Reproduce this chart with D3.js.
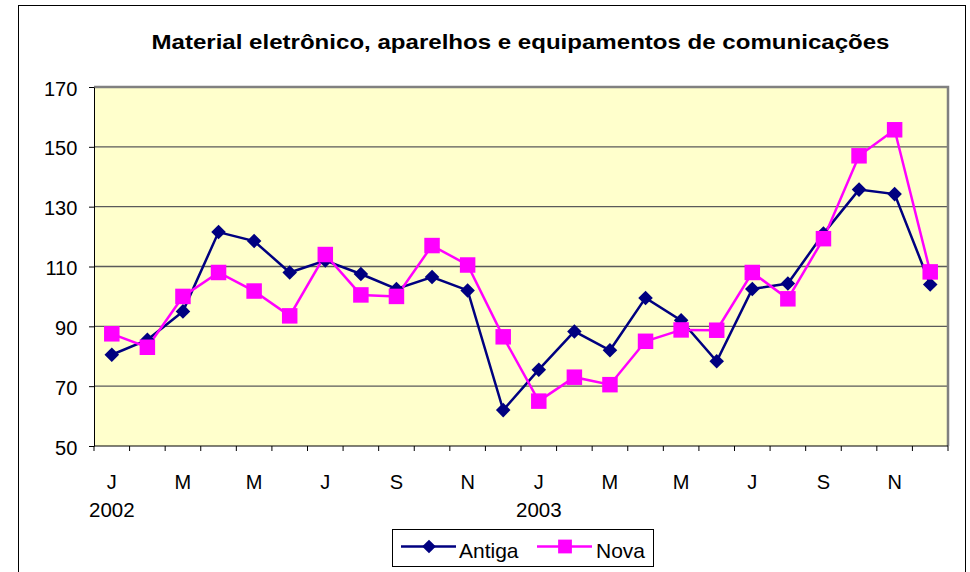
<!DOCTYPE html>
<html>
<head>
<meta charset="utf-8">
<script src="https://cdn.jsdelivr.net/npm/d3@7"></script>
<style>
  body { margin: 0; background: #fff; }
  svg { display: block; font-family: "Liberation Sans", Arial, sans-serif; }
</style>
</head>
<body>
<div id="chart"></div>
<script>
const months = ["J","F","M","A","M","J","J","A","S","O","N","D",
                "J","F","M","A","M","J","J","A","S","O","N","D"];
const years = ["2002","","","","","","","","","","","",
               "2003","","","","","","","","","","",""];
const antiga = [80.5, 85.5, 95, 121.5, 118.5, 108, 112, 107.5, 102.5, 106.5, 102, 62,
                75.5, 88.3, 82, 99.5, 92, 78.3, 102.5, 104.3, 121, 135.7, 134.2, 104];
const nova = [87.5, 83, 100, 108, 101.8, 93.5, 114, 100.5, 100, 117, 110.5, 86.5,
              65, 73, 70.5, 85, 88.8, 88.7, 108, 99.2, 119.3, 147, 155.7, 108.2];
const yTicks = [50, 70, 90, 110, 130, 150, 170];

const W = 970, H = 572;
const margin = { top: 87, right: 22, bottom: 126, left: 94 };
const width = W - margin.left - margin.right;
const height = H - margin.top - margin.bottom;

const svg = d3.select("#chart").append("svg")
  .attr("width", W)
  .attr("height", H);

// outer frame
svg.append("rect")
  .attr("x", 18.5).attr("y", 5.5)
  .attr("width", 947).attr("height", 580)
  .attr("fill", "none").attr("stroke", "#000").attr("stroke-width", 1);

svg.append("text")
  .attr("x", 151.5)
  .attr("y", 49)
  .attr("font-weight", "bold")
  .attr("font-size", "21px")
  .attr("textLength", 738)
  .attr("lengthAdjust", "spacingAndGlyphs")
  .text("Material eletrônico, aparelhos e equipamentos de comunicações");

const g = svg.append("g")
  .attr("transform", `translate(${margin.left},${margin.top})`);

const idx = d3.range(months.length);
const x = d3.scaleBand().domain(idx).range([0, width]);
const y = d3.scaleLinear().domain([50, 170]).range([height, 0]);

g.append("rect")
  .attr("width", width).attr("height", height)
  .attr("fill", "#FFFFCC");

// gridlines
g.selectAll(".grid")
  .data(yTicks.slice(1, -1))
  .enter().append("line")
  .attr("x1", 0).attr("x2", width)
  .attr("y1", d => y(d)).attr("y2", d => y(d))
  .attr("stroke", "#5a5a5a").attr("stroke-width", 1.3);

// plot border (top/right gray)
g.append("path")
  .attr("d", `M0,0H${width}V${height}`)
  .attr("fill", "none").attr("stroke", "#808080").attr("stroke-width", 2.5);

// y axis
const yAxis = g.append("g")
  .call(d3.axisLeft(y).tickValues(yTicks).tickSize(5).tickSizeOuter(0));
yAxis.select(".domain").attr("stroke", "#000");
yAxis.selectAll(".tick line").attr("stroke", "#000");
yAxis.selectAll("text")
  .attr("font-size", "20px").attr("font-family", "Liberation Sans, Arial, sans-serif")
  .attr("fill", "#000").attr("dx", "-8.7px").attr("dy", "0.4em");

// x axis: ticks at category boundaries
const bounds = d3.range(months.length + 1).map(i => i * x.bandwidth());
g.append("line")
  .attr("x1", 0).attr("x2", width)
  .attr("y1", height).attr("y2", height)
  .attr("stroke", "#000");
g.selectAll(".xtick")
  .data(bounds)
  .enter().append("line")
  .attr("x1", d => d).attr("x2", d => d)
  .attr("y1", height).attr("y2", height + 5)
  .attr("stroke", "#000");

g.selectAll(".mlabel")
  .data(idx.filter(i => i % 2 === 0))
  .enter().append("text")
  .attr("x", i => x(i) + x.bandwidth() / 2)
  .attr("y", height + 43)
  .attr("text-anchor", "middle")
  .attr("font-size", "20px")
  .text(i => months[i]);

g.selectAll(".ylabel")
  .data(idx.filter(i => years[i] !== ""))
  .enter().append("text")
  .attr("x", i => x(i) + x.bandwidth() / 2)
  .attr("y", height + 71)
  .attr("text-anchor", "middle")
  .attr("font-size", "20.5px")
  .text(i => years[i]);

const line = d3.line()
  .x((d, i) => x(i) + x.bandwidth() / 2)
  .y(d => y(d));

const cA = "#000080", cN = "#FF00FF";

g.append("path").datum(antiga)
  .attr("d", line).attr("fill", "none")
  .attr("stroke", cA).attr("stroke-width", 2.5);

g.append("path").datum(nova)
  .attr("d", line).attr("fill", "none")
  .attr("stroke", cN).attr("stroke-width", 2.5);

const diamond = d3.symbol().type(d3.symbolDiamond2).size(135);
const square = d3.symbol().type(d3.symbolSquare).size(240);

g.selectAll(".ma")
  .data(antiga)
  .enter().append("path")
  .attr("d", diamond)
  .attr("transform", (d, i) => `translate(${x(i) + x.bandwidth() / 2},${y(d)})`)
  .attr("fill", cA);

g.selectAll(".mn")
  .data(nova)
  .enter().append("path")
  .attr("d", square)
  .attr("transform", (d, i) => `translate(${x(i) + x.bandwidth() / 2},${y(d)})`)
  .attr("fill", cN);

// legend
const legend = svg.append("g");
legend.append("rect")
  .attr("x", 392.5).attr("y", 529.5)
  .attr("width", 261).attr("height", 37)
  .attr("fill", "#fff").attr("stroke", "#000");

const items = [
  { name: "Antiga", color: cA, sym: d3.symbol().type(d3.symbolDiamond2).size(120), x0: 401, tx: 459 },
  { name: "Nova", color: cN, sym: d3.symbol().type(d3.symbolSquare).size(190), x0: 537, tx: 596 }
];
items.forEach(it => {
  legend.append("line")
    .attr("x1", it.x0).attr("x2", it.x0 + 55)
    .attr("y1", 546.5).attr("y2", 546.5)
    .attr("stroke", it.color).attr("stroke-width", 2.5);
  legend.append("path")
    .attr("d", it.sym)
    .attr("transform", `translate(${it.x0 + 28},546.5)`)
    .attr("fill", it.color);
  legend.append("text")
    .attr("x", it.tx)
    .attr("y", 558)
    .attr("font-size", "21px")
    .text(it.name);
});
</script>
</body>
</html>
